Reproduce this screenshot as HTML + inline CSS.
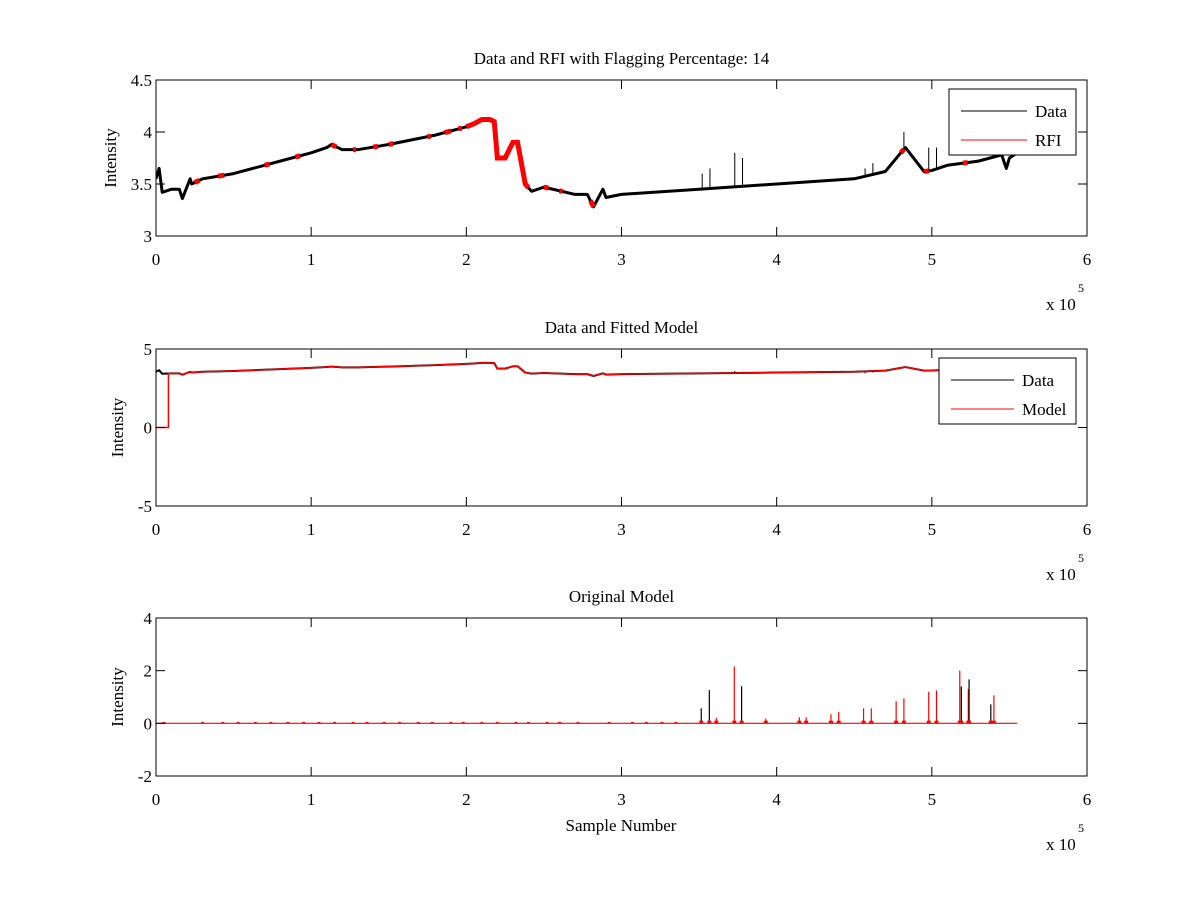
<!DOCTYPE html>
<html><head><meta charset="utf-8"><style>
html,body{margin:0;padding:0;background:#fff;}
svg{display:block;font-family:"Liberation Serif",serif;}
</style></head><body>
<svg id="chart" width="1200" height="900" viewBox="0 0 1200 900"></svg>
<script>
// ---------- data ----------
const dataX = [0,0.02,0.04,0.1,0.15,0.17,0.22,0.23,0.3,0.5,0.8,1.0,1.1,1.13,1.2,1.3,1.5,1.8,2.0,2.05,2.1,2.15,2.18,2.2,2.25,2.3,2.33,2.38,2.42,2.5,2.7,2.78,2.82,2.88,2.9,3.0,3.5,4.0,4.5,4.7,4.8,4.83,4.95,5.0,5.1,5.3,5.45,5.48,5.5,5.55];
const dataY = [3.55,3.65,3.42,3.45,3.45,3.36,3.55,3.5,3.55,3.6,3.72,3.8,3.85,3.88,3.83,3.83,3.88,3.97,4.05,4.08,4.12,4.12,4.1,3.75,3.75,3.9,3.9,3.5,3.43,3.47,3.4,3.4,3.28,3.45,3.37,3.4,3.45,3.5,3.55,3.62,3.8,3.85,3.62,3.63,3.68,3.72,3.78,3.65,3.75,3.8];
const dataSpikeX = [3.52,3.57,3.73,3.78,4.57,4.62,4.82,4.98,5.03];
const dataSpikeY = [3.6,3.65,3.8,3.75,3.65,3.7,4.0,3.85,3.85];
const rfiStart = [0.25,0.4,0.7,0.9,1.13,1.27,1.4,1.5,1.75,1.86,1.95,2.0,2.5,2.6,2.8,4.8,4.95,5.2];
const rfiEnd   = [0.28,0.44,0.73,0.93,1.16,1.29,1.43,1.53,1.77,1.9,1.97,2.4,2.53,2.62,2.82,4.82,4.98,5.23];
const modelStartX = 0.08;
const spikeX = [3.514,3.566,3.611,3.727,3.774,3.93,4.146,4.19,4.35,4.40,4.56,4.61,4.77,4.82,4.98,5.03,5.18,5.19,5.235,5.24,5.38,5.40];
const spikeH = [0.57,1.26,0.2,2.16,1.41,0.18,0.23,0.23,0.35,0.43,0.57,0.57,0.84,0.95,1.2,1.25,2.0,1.4,1.3,1.67,0.72,1.06];
const spikeC = ['k','k','r','r','k','r','r','r','r','r','r','r','r','r','r','r','r','k','r','k','k','r'];
const bumpX = [0.05,0.3,0.43,0.53,0.64,0.74,0.85,0.95,1.05,1.15,1.27,1.36,1.47,1.57,1.69,1.78,1.9,1.98,2.1,2.2,2.32,2.4,2.52,2.6,2.72,2.92,3.07,3.16,3.26,3.35];
const modelEndX = 5.55;
const xTicks = [0,1,2,3,4,5,6];
const yTicks1 = [3,3.5,4,4.5];
const yTicks2 = [-5,0,5];
const yTicks3 = [-2,0,2,4];

// ---------- layout ----------
const NS="http://www.w3.org/2000/svg";
const svg=document.getElementById('chart');
function mk(tag,attrs,parent){const e=document.createElementNS(NS,tag);for(const k in attrs)e.setAttribute(k,attrs[k]);(parent||svg).appendChild(e);return e;}
const L=156,R=1087;
const panels=[
 {top:80,bot:236,ymin:3,ymax:4.5,ticks:yTicks1,title:'Data and RFI with Flagging Percentage: 14',name:'rfi-panel'},
 {top:349,bot:506,ymin:-5,ymax:5,ticks:yTicks2,title:'Data and Fitted Model',name:'model-panel'},
 {top:618,bot:776,ymin:-2,ymax:4,ticks:yTicks3,title:'Original Model',name:'original-panel'}];
function sx(v){return L+(R-L)*v/6;}
function mkSy(p){return v=>p.bot-(p.bot-p.top)*(v-p.ymin)/(p.ymax-p.ymin);}
function interp(x){for(let i=1;i<dataX.length;i++){if(x<=dataX[i]){const t=(x-dataX[i-1])/(dataX[i]-dataX[i-1]);return dataY[i-1]+t*(dataY[i]-dataY[i-1]);}}return dataY[dataY.length-1];}

panels.forEach((p,pi)=>{
 const g=mk('g',{});
 
 
 const sy=mkSy(p);
 const clip=mk('clipPath',{id:'c'+pi},g);mk('rect',{x:L,y:p.top,width:R-L,height:p.bot-p.top},clip);
 const plot=mk('g',{'clip-path':'url(#c'+pi+')'},g);
 
 
 if(pi<2){
  const pts=dataX.map((x,i)=>sx(x)+','+sy(dataY[i])).join(' ');
  const dl=mk('polyline',{points:pts,fill:'none',stroke:'#000','stroke-width':pi==0?3:2,'stroke-linejoin':'round'},plot);
  
  
  dataSpikeX.forEach((x,i)=>{const s=mk('line',{x1:sx(x),x2:sx(x),y1:sy(interp(x)),y2:sy(pi==0?dataSpikeY[i]:dataSpikeY[i]-0.2),stroke:'#000','stroke-width':1},plot);
   });
 }
 if(pi==0){
  rfiStart.forEach((a,i)=>{const b=rfiEnd[i];const pts=[];for(let x=a;x<=b+1e-9;x+=0.01)pts.push(sx(x)+','+sy(interp(x)));pts.push(sx(b)+','+sy(interp(b)));
   const r=mk('polyline',{points:pts.join(' '),fill:'none',stroke:'#f00','stroke-width':5},plot);
   });
 }
 if(pi==1){
  const pts=[sx(0)+','+sy(0),sx(modelStartX)+','+sy(0),sx(modelStartX)+','+sy(interp(modelStartX))];
  dataX.forEach((x,i)=>{if(x>modelStartX)pts.push(sx(x)+','+sy(dataY[i]));});
  const m=mk('polyline',{points:pts.join(' '),fill:'none',stroke:'#f00','stroke-width':1.5},plot);
  
 }
 if(pi==2){
  const base=mk('line',{x1:sx(0),x2:sx(modelEndX),y1:sy(0),y2:sy(0),stroke:'#f00','stroke-width':1.2},plot);
  
  bumpX.forEach(x=>{const b=mk('rect',{x:sx(x)-1.5,y:sy(0.05),width:3,height:sy(0)-sy(0.05),fill:'#f00'},plot);
   });
  spikeX.forEach((x,i)=>{const s=mk('line',{x1:sx(x),x2:sx(x),y1:sy(0),y2:sy(spikeH[i]),stroke:spikeC[i]=='r'?'#f00':'#000','stroke-width':1.2},plot);
   
   const f=mk('rect',{x:sx(x)-2,y:sy(0.1),width:4,height:sy(0)-sy(0.1),fill:'#f00'},plot);
   });
 }
 const box=mk('rect',{x:L,y:p.top,width:R-L,height:p.bot-p.top,fill:'none',stroke:'#000','stroke-width':1},g);
 
 xTicks.forEach(t=>{const x=sx(t);
  mk('line',{x1:x,x2:x,y1:p.bot,y2:p.bot-9,stroke:'#000'},g);mk('line',{x1:x,x2:x,y1:p.top,y2:p.top+9,stroke:'#000'},g);
  const tx=mk('text',{x:x,y:p.bot+29,'text-anchor':'middle','font-size':17},g);tx.textContent=t;
  });
 p.ticks.forEach(t=>{const y=sy(t);
  mk('line',{x1:L,x2:L+9,y1:y,y2:y,stroke:'#000'},g);mk('line',{x1:R,x2:R-9,y1:y,y2:y,stroke:'#000'},g);
  const tx=mk('text',{x:L-4,y:y+6,'text-anchor':'end','font-size':17},g);tx.textContent=t;
  });
 const ex=mk('text',{x:1046,y:p.bot+74,'font-size':17},g);ex.textContent='x 10';
 
 const e5=mk('text',{x:1078,y:p.bot+56,'font-size':12},g);e5.textContent='5';
 
 const ti=mk('text',{x:(L+R)/2,y:p.top-16,'text-anchor':'middle','font-size':17},g);ti.textContent=p.title;
 
 const yl=mk('text',{x:0,y:0,'text-anchor':'middle','font-size':17,transform:'translate('+(pi==0?116:123)+','+((p.top+p.bot)/2)+') rotate(-90)'},g);yl.textContent='Intensity';
 
});
const xl=mk('text',{x:621,y:831,'text-anchor':'middle','font-size':17});xl.textContent='Sample Number';


function legend(x,y,w,h,labels,lx1,lx2,tx,name){
 const g=mk('g',{});
 
 mk('rect',{x:x,y:y,width:w,height:h,fill:'#fff',stroke:'#000'},g);
 labels.forEach((l,i)=>{const yy=y+22+i*29;
  const ln=mk('line',{x1:lx1,x2:lx2,y1:yy,y2:yy,stroke:i==0?'#000':'#f00'},g);
  
  const t=mk('text',{x:tx,y:yy+6,'font-size':17},g);t.textContent=l;
  });
}
legend(949,89,127,66,['Data','RFI'],961,1027,1035,'legend-rfi');
legend(939,358,137,66,['Data','Model'],951,1014,1022,'legend-model');
</script>
</body></html>
